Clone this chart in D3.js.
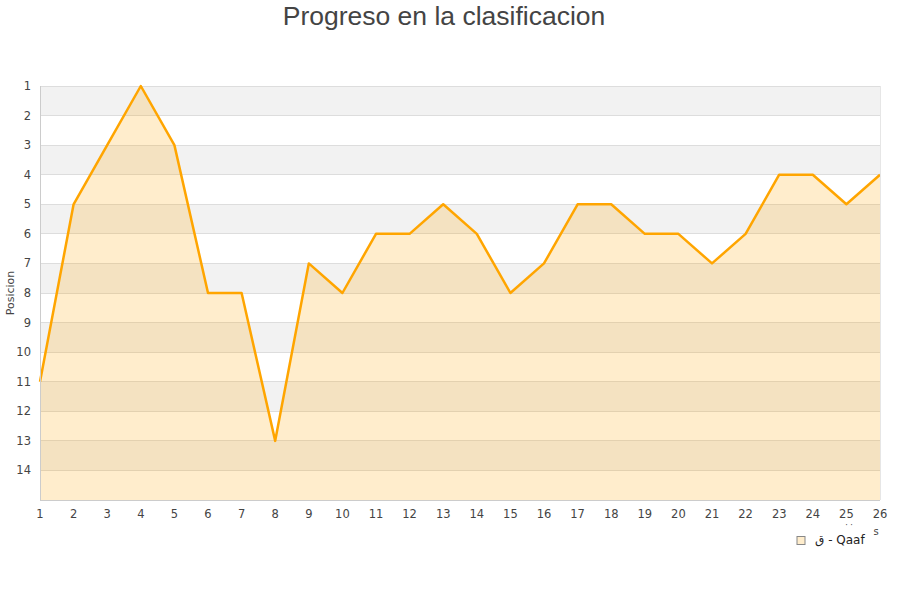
<!DOCTYPE html>
<html><head><meta charset="utf-8">
<script src="https://cdn.jsdelivr.net/npm/d3@7"></script>
<style>body{margin:0;background:#fff;font-family:"DejaVu Sans",sans-serif;}</style>
</head><body><svg id="c" width="900" height="600"></svg>
<script>
const rounds = d3.range(1, 27);
const positions = [11,5,3,1,3,8,8,13,7,8,6,6,5,6,8,7,5,5,6,6,7,6,4,4,5,4];
const yTicks = d3.range(1, 15);
const seriesName = "ق - Qaaf";
const title = "Progreso en la clasificacion";
const yLabel = "Posicion";

const svg = d3.select("#c");
const L = 40, R = 880, T = 86, B = 500;
const x = d3.scaleLinear().domain([1, 26]).range([L, R]);
const y = d3.scaleLinear().domain([1, 15]).range([T, B]);

// bands
svg.append("g").selectAll("rect").data(d3.range(1, 15)).join("rect")
  .attr("x", L).attr("width", R - L)
  .attr("y", d => y(d)).attr("height", d => y(d + 1) - y(d))
  .attr("fill", d => d % 2 === 1 ? "#f2f2f2" : "#ffffff");
// grid
svg.append("g").selectAll("line").data(d3.range(1, 16)).join("line")
  .attr("x1", L).attr("x2", R).attr("y1", d => y(d)).attr("y2", d => y(d))
  .attr("stroke", "#dddddd").attr("stroke-width", 1).attr("shape-rendering", "crispEdges");

const data = rounds.map((r, i) => ({r, p: positions[i]}));
svg.append("path").datum(data)
  .attr("d", d3.area().x(d => x(d.r)).y0(B).y1(d => y(d.p)))
  .attr("fill", "#ffa500").attr("fill-opacity", 0.2);
svg.append("path").datum(data)
  .attr("d", d3.line().x(d => x(d.r)).y(d => y(d.p)))
  .attr("fill", "none").attr("stroke", "#ffa500").attr("stroke-width", 2.5).attr("stroke-linejoin", "round");

// frame
svg.append("line").attr("x1", L).attr("x2", L).attr("y1", T).attr("y2", B).attr("stroke", "#cccccc").attr("shape-rendering", "crispEdges");
svg.append("line").attr("x1", L).attr("x2", R).attr("y1", B).attr("y2", B).attr("stroke", "#cccccc").attr("shape-rendering", "crispEdges");
svg.append("line").attr("x1", R).attr("x2", R).attr("y1", T).attr("y2", B).attr("stroke", "#e6e6e6").attr("shape-rendering", "crispEdges");

// y ticks
svg.append("g").selectAll("text").data(yTicks).join("text")
  .attr("x", 31).attr("y", d => y(d) + 4).attr("text-anchor", "end")
  .attr("font-size", 11.5).attr("fill", "#444").text(d => d);
// x ticks
svg.append("g").selectAll("text").data(rounds).join("text")
  .attr("x", d => x(d)).attr("y", 518).attr("text-anchor", "middle")
  .attr("font-size", 11.5).attr("fill", "#444").text(d => d);

svg.append("text").attr("x", 444).attr("y", 25).attr("text-anchor", "middle")
  .attr("font-family", "Liberation Sans, Arial, sans-serif").attr("font-size", 26.5).attr("fill", "#444").text(title);
svg.append("text").attr("transform", "translate(14,293) rotate(-90)").attr("text-anchor", "middle")
  .attr("font-size", 11).attr("fill", "#444").text(yLabel);
svg.append("text").attr("x", 876).attr("y", 535).attr("text-anchor", "middle").attr("font-size", 10).attr("fill", "#444").text("s");
svg.append("text").attr("x", 849).attr("y", 528).attr("text-anchor", "middle").attr("font-size", 8).attr("fill", "#444").text("·         ·");

// legend
svg.append("rect").attr("x", 797).attr("y", 536.5).attr("width", 8).attr("height", 8)
  .attr("fill", "#ffedcc").attr("stroke", "#888").attr("stroke-width", 1);
svg.append("text").attr("x", 815).attr("y", 544).attr("font-size", 12).attr("fill", "#222").text(seriesName);
</script></body></html>
